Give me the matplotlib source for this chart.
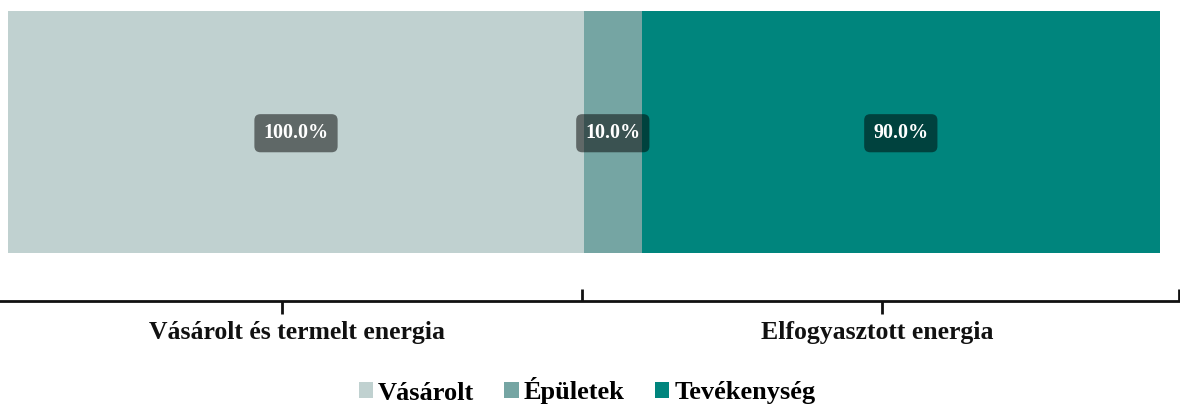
import matplotlib
matplotlib.use("Agg")
import matplotlib.pyplot as plt
from matplotlib.patches import Patch
import matplotlib.transforms as mtransforms

# ---- data ----
categories = ["Vásárolt és termelt energia", "Elfogyasztott energia"]
series = ["Vásárolt", "Épületek", "Tevékenység"]
vasarolt = [100.0, 0.0]
epuletek = [0.0, 10.0]
tevekenyseg = [0.0, 90.0]
colors = ["#C0D1D0", "#75A5A3", "#00857D"]

values = [vasarolt, epuletek, tevekenyseg]

W, H = 1180, 405
plt.rcParams["font.family"] = ["Liberation Serif", "DejaVu Serif"]
plt.rcParams["font.weight"] = "bold"

fig = plt.figure(figsize=(W / 100, H / 100), dpi=100)
ax = fig.add_axes([8 / W, (H - 253) / H, 1152 / W, 242 / H])

ncat = len(categories)
for ci in range(ncat):
    left = ci * 100.0
    for si, s in enumerate(series):
        v = values[si][ci]
        if v <= 0:
            continue
        ax.barh(0, v, left=left, height=1.0, color=colors[si], edgecolor="none")
        ax.text(left + v / 2, -0.005, f"{v:.1f}%", ha="center", va="center",
                color="white", fontsize=14.5, fontweight="bold",
                bbox=dict(boxstyle="round,pad=0.45,rounding_size=0.3",
                          facecolor="black", alpha=0.5, edgecolor="none"))
        left += v

ax.set_xlim(0, 100 * ncat)
ax.set_ylim(-0.5, 0.5)
ax.axis("off")

# ---- category axis below ----
ax2 = fig.add_axes([0, (H - 301) / H, 1, 0.0001])
ax2.set_xlim(0, W)
ax2.set_ylim(0, 1)
for sp in ["top", "left", "right"]:
    ax2.spines[sp].set_visible(False)
ax2.spines["bottom"].set_linewidth(2)
ax2.spines["bottom"].set_color("#111111")
ax2.set_yticks([])
ax2.set_xticks([282, 882])
ax2.set_xticklabels([])
ax2.set_xticks([582, 1179], minor=True)
ax2.tick_params(axis="x", which="major", direction="out", length=9, width=2, color="#111111")
ax2.tick_params(axis="x", which="minor", direction="in", length=9, width=2, color="#111111")

trans = mtransforms.blended_transform_factory(ax.transData, fig.transFigure)
label_x = [50.2, 150.9]
for ci, cat in enumerate(categories):
    ax.text(label_x[ci], (H - 333) / H, cat, transform=trans,
            ha="center", va="center", fontsize=18.5, fontweight="bold", color="#111111")

handles = [Patch(facecolor=c, edgecolor="none") for c in colors]
fig.legend(handles, series, loc="center", bbox_to_anchor=(587 / W, (H - 391) / H),
           ncol=3, frameon=False, prop=dict(size=19, weight="bold"),
           handlelength=0.55, handleheight=0.55, handletextpad=0.18,
           columnspacing=1.15, borderaxespad=0)

fig.savefig("out.png", dpi=100)
